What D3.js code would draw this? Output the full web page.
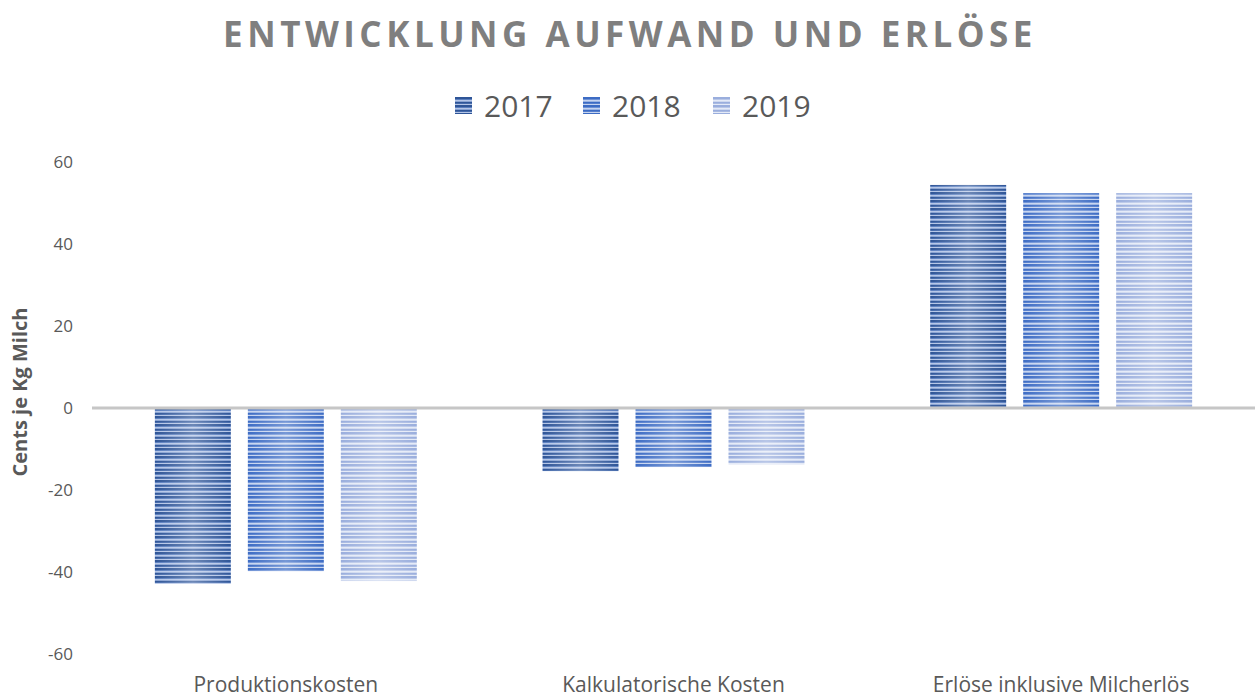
<!DOCTYPE html>
<html lang="de">
<head>
<meta charset="UTF-8">
<title>Entwicklung Aufwand und Erlöse</title>
<script src="https://d3js.org/d3.v7.min.js"></script>
<style>
  body { margin: 0; background: #fff; }
  svg { display: block; }
</style>
</head>
<body>
<svg id="chart"></svg>
<script>
  // categories and series
  var categories = ["Produktionskosten", "Kalkulatorische Kosten", "Erlöse inklusive Milcherlös"];
  var years = ["2017", "2018", "2019"];
  var values2017 = [-42.9, -15.4, 54.4];
  var values2018 = [-39.8, -14.4, 52.4];
  var values2019 = [-42.2, -13.7, 52.4];
  var yTicks = [-60, -40, -20, 0, 20, 40, 60];

  var series = [values2017, values2018, values2019];
  var data = [];
  categories.forEach(function (c, i) {
    years.forEach(function (y, j) {
      data.push({ category: c, year: y, value: series[j][i] });
    });
  });

  var width = 1259, height = 699;
  var plot = { left: 92, right: 1255, top: 162, bottom: 654 };

  var svg = d3.select("#chart").attr("width", width).attr("height", height);
  var defs = svg.append("defs");

  // striped fills, one per year
  var palette = {
    "2017": { dark: "#2f5597", mid: "#5b7fbf", light: "#b4c5e6" },
    "2018": { dark: "#3d6cc4", mid: "#6e92d6", light: "#c6d4ef" },
    "2019": { dark: "#9aaedd", mid: "#b9c7e8", light: "#e4eaf7" }
  };
  years.forEach(function (y) {
    var p = defs.append("pattern")
        .attr("id", "stripe" + y)
        .attr("patternUnits", "userSpaceOnUse")
        .attr("width", 10).attr("height", 8);
    p.append("rect").attr("width", 10).attr("height", 8).attr("fill", palette[y].mid);
    p.append("rect").attr("y", 0).attr("width", 10).attr("height", 2).attr("fill", palette[y].dark);
    p.append("rect").attr("y", 3).attr("width", 10).attr("height", 1.5).attr("fill", palette[y].light);
    p.append("rect").attr("y", 5).attr("width", 10).attr("height", 1.5).attr("fill", palette[y].dark);
    p.append("rect").attr("y", 7).attr("width", 10).attr("height", 1).attr("fill", palette[y].light);
  });
  var glow = defs.append("linearGradient").attr("id", "glow")
      .attr("x1", 0).attr("x2", 1).attr("y1", 0).attr("y2", 0);
  glow.append("stop").attr("offset", "0%").attr("stop-color", "#fff").attr("stop-opacity", 0);
  glow.append("stop").attr("offset", "50%").attr("stop-color", "#fff").attr("stop-opacity", 0.3);
  glow.append("stop").attr("offset", "100%").attr("stop-color", "#fff").attr("stop-opacity", 0);

  var x0 = d3.scaleBand().domain(categories).range([plot.left, plot.right]);
  var x1 = d3.scaleBand().domain(years).range([0, x0.bandwidth()])
      .paddingInner(0.183).paddingOuter(0.676);
  var y = d3.scaleLinear().domain([-60, 60]).range([plot.bottom, plot.top]);

  // title
  svg.append("text")
      .attr("x", 630).attr("y", 47)
      .attr("text-anchor", "middle")
      .style("font-family", "'Open Sans', sans-serif")
      .style("font-weight", "bold")
      .style("font-size", "35px")
      .style("letter-spacing", "4.5px")
      .style("fill", "#7f7f7f")
      .text("ENTWICKLUNG AUFWAND UND ERLÖSE");

  // legend
  var legendX = [455, 583, 713];
  var legend = svg.selectAll(".legend").data(years).enter().append("g")
      .attr("class", "legend")
      .attr("transform", function (d, i) { return "translate(" + legendX[i] + ",97)"; });
  legend.append("rect").attr("width", 17).attr("height", 17)
      .attr("fill", function (d) { return "url(#stripe" + d + ")"; });
  legend.append("text").attr("x", 29).attr("y", 20)
      .style("font-family", "'Open Sans', sans-serif")
      .style("font-size", "30px")
      .style("fill", "#595959")
      .text(function (d) { return d; });

  // y axis
  var yAxis = svg.append("g")
      .attr("transform", "translate(" + 73 + ",0)")
      .call(d3.axisLeft(y).tickValues(yTicks).tickSize(0).tickPadding(0)
        .tickFormat(function (d) { return String(d); }));
  yAxis.select(".domain").remove();
  yAxis.selectAll("text")
      .style("font-family", "'Open Sans', sans-serif")
      .style("font-size", "17px")
      .style("fill", "#595959");

  svg.append("text")
      .attr("transform", "translate(27,392) rotate(-90)")
      .attr("text-anchor", "middle")
      .style("font-family", "'Open Sans', sans-serif")
      .style("font-weight", "bold")
      .style("font-size", "20px")
      .style("fill", "#595959")
      .text("Cents je Kg Milch");

  // bars
  var bars = svg.append("g").selectAll("g").data(data).enter().append("g")
      .attr("transform", function (d) { return "translate(" + (x0(d.category) + x1(d.year)) + ",0)"; });
  bars.append("rect")
      .attr("y", function (d) { return y(Math.max(0, d.value)); })
      .attr("width", x1.bandwidth())
      .attr("height", function (d) { return Math.abs(y(d.value) - y(0)); })
      .attr("fill", function (d) { return "url(#stripe" + d.year + ")"; });
  bars.append("rect")
      .attr("y", function (d) { return y(Math.max(0, d.value)); })
      .attr("width", x1.bandwidth())
      .attr("height", function (d) { return Math.abs(y(d.value) - y(0)); })
      .attr("fill", "url(#glow)");

  // zero line
  svg.append("line")
      .attr("x1", plot.left).attr("x2", plot.right)
      .attr("y1", y(0)).attr("y2", y(0))
      .attr("stroke", "#c6c6c6").attr("stroke-width", 3);

  // category labels
  svg.selectAll(".cat").data(categories).enter().append("text")
      .attr("class", "cat")
      .attr("x", function (d) { return x0(d) + x0.bandwidth() / 2; })
      .attr("y", 692)
      .attr("text-anchor", "middle")
      .style("font-family", "'Open Sans', sans-serif")
      .style("font-size", "21px")
      .style("fill", "#595959")
      .text(function (d) { return d; });
</script>
</body>
</html>
